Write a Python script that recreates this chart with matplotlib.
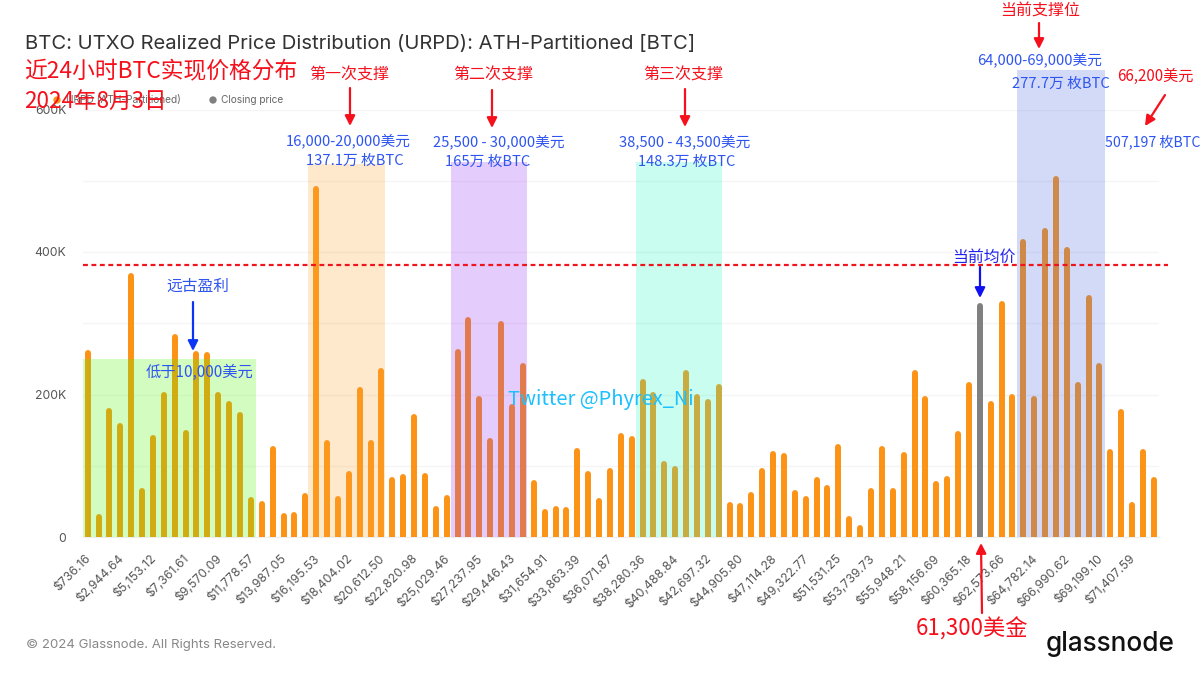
#!/usr/bin/env python
"""URPD bar chart with the hand-drawn support annotations on top."""
import matplotlib
matplotlib.use("Agg")
import matplotlib.pyplot as plt
import numpy as np
from matplotlib.patches import Rectangle
from matplotlib.transforms import ScaledTranslation

# thousands of BTC per price bucket
supply = [262, 32, 181, 160, 371, 69, 143, 203, 285, 150, 261, 259, 204, 190, 175, 56,
          50, 127, 33, 35, 62, 493, 136, 57, 93, 210, 136, 237, 84,
          88, 173, 90, 43, 59, 263, 309, 198, 139, 303, 187, 244, 80, 39, 43, 42, 125,
          93, 55, 97, 146, 141, 221, 203, 107, 100, 234, 200, 194, 215, 49, 47, 63, 97,
          121, 118, 66,
          57, 84, 73, 131, 29, 16, 69, 128, 69, 119, 234, 198, 79, 86, 148, 218, 328,
          190, 331, 201, 418, 198, 433, 507, 407, 218, 340, 244, 124, 180, 49, 123, 84]
closing_idx = 82
tick_labels = ["$736.16", "$2,944.64", "$5,153.12", "$7,361.61", "$9,570.09", "$11,778.57",
               "$13,987.05", "$16,195.53", "$18,404.02", "$20,612.50", "$22,820.98",
               "$25,029.46", "$27,237.95", "$29,446.43", "$31,654.91", "$33,863.39",
               "$36,071.87", "$38,280.36", "$40,488.84", "$42,697.32", "$44,905.80",
               "$47,114.28", "$49,322.77", "$51,531.25", "$53,739.73", "$55,948.21",
               "$58,156.69", "$60,365.18", "$62,573.66", "$64,782.14", "$66,990.62",
               "$69,199.10", "$71,407.59"]
mean_level = 382

# (first bucket edge, last bucket edge, top in K, colour)
zones = [(-0.43, 15.5, 250, (82 / 255, 246 / 255, 10 / 255)),
         (20.25, 27.3, 523, (1.0, 168 / 255, 52 / 255)),
         (33.4, 40.4, 526, (150 / 255, 52 / 255, 248 / 255)),
         (50.4, 58.3, 526, (40 / 255, 248 / 255, 196 / 255)),
         (85.4, 93.5, 656, (76 / 255, 108 / 255, 228 / 255))]

NARROW = ["Liberation Sans Narrow", "Noto Sans CJK SC", "DejaVu Sans"]
RED = "#f5101c"
BLUE = "#2f55f0"
ORANGE = "#fb9316"
CAP = 4  # half a bar width in K, so the round cap ends on the value

plt.rcParams["font.family"] = ["Inter", "DejaVu Sans"]
W, H = 1200, 675
fig = plt.figure(figsize=(12, 6.75), dpi=100)
ax = fig.add_axes([83 / W, 1 - 537 / H, (1159 - 83) / W, (537 - 109.5) / H])

x = np.arange(len(supply))
colors = ["#808080" if i == closing_idx else ORANGE for i in x]
ax.vlines(x, 0, np.array(supply) - CAP, colors=colors, linewidth=4.3, capstyle="round", zorder=3)
ax.set_xlim(-0.43, 98.47)
ax.set_ylim(0, 600)

ax.set_yticks([0, 200, 400, 600], ["0", "200K", "400K", "600K"], fontsize=8.8, color="#555555")
ax.set_yticks([100, 300, 500], minor=True)
ax.grid(axis="y", which="both", color="#f5f5f5", linewidth=1, zorder=0)
ax.set_xticks(x[::3], tick_labels, rotation=45, ha="right", rotation_mode="anchor",
              fontsize=8.8, color="#555555")
ax.tick_params(axis="both", which="both", length=0)
ax.tick_params(axis="y", pad=12)
ax.tick_params(axis="x", pad=11)
shift = ScaledTranslation(-3 / 100, 0, fig.dpi_scale_trans)
for lab in ax.get_xticklabels():
    lab.set_transform(lab.get_transform() + shift)
for side in ["top", "right", "left"]:
    ax.spines[side].set_visible(False)
ax.spines["bottom"].set_color("#eeeeee")

for x0, x1, top, c in zones:
    ax.add_patch(Rectangle((x0, 0), x1 - x0, top, facecolor=c, alpha=0.25, edgecolor="none",
                           zorder=4, clip_on=False))
ax.plot([-0.43, 99.3], [mean_level, mean_level], color="#f0141e", linewidth=1.6,
        linestyle=(0, (2.2, 1.6)), zorder=5, clip_on=False)

# overlay in pixel coords for all the pasted-on notes
ov = fig.add_axes([0, 0, 1, 1], facecolor="none")
ov.set_xlim(0, W)
ov.set_ylim(H, 0)
ov.axis("off")


def note(px, py, s, color=BLUE, size=10.6, family=NARROW, **kw):
    ov.text(px, py, s, color=color, fontsize=size, family=family, va="center", ha="left", **kw)


def arrow(x0, y0, x1, y1, color=RED, lw=1.6):
    ov.annotate("", xy=(x1, y1), xytext=(x0, y0),
                arrowprops=dict(arrowstyle="-|>,head_width=0.3,head_length=0.6", color=color,
                                lw=lw, shrinkA=0, shrinkB=0))


INTER = ["Inter", "DejaVu Sans"]
note(25, 44, "BTC: UTXO Realized Price Distribution (URPD): ATH-Partitioned [BTC]",
     color="#333333", size=14.55, family=INTER)

# legend
ov.scatter([57, 213], [100, 100], s=28, color=[ORANGE, "#808080"], edgecolors="none")
note(66, 100, "URPD (ATH-Partitioned)", color="#666666", size=7.3, family=INTER)
note(221, 100, "Closing price", color="#666666", size=7.3, family=INTER)

note(24, 72, "近24小时BTC实现价格分布", color=RED, size=16.4)
note(24, 101, "2024年8月3日", color=RED, size=16.2)

for px, s in [(309, "第一次支撑"), (453, "第二次支撑"), (643, "第三次支撑")]:
    note(px, 75, s, color=RED, size=11.5)
note(1000, 11, "当前支撑位", color=RED, size=11.5)
note(1117, 76, "66,200美元", color=RED, size=10.9)

arrow(350, 88, 350, 126)
arrow(492, 90, 492, 128)
arrow(685, 89, 685, 127)
arrow(1039, 23, 1039, 49)
arrow(1165, 95, 1145, 126)

note(286, 141, "16,000-20,000美元")
note(306, 161, "137.1万 枚BTC")
note(433, 142, "25,500 - 30,000美元")
note(445, 162, "165万 枚BTC")
note(619, 142, "38,500 - 43,500美元")
note(638, 162, "148.3万 枚BTC")
note(977, 60, "64,000-69,000美元")
note(1012, 84, "277.7万 枚BTC")
note(1105, 142, "507,197 枚BTC", size=10.2)

note(952, 257, "当前均价", color="#2222ee", size=11.4)
arrow(980, 267, 980, 298, color="#1010f0")
note(166, 286, "远古盈利", size=11.3)
arrow(193, 302, 193, 351, color="#0a35f5")
note(146, 372, "低于10,000美元", size=11)

note(508, 399, "Twitter @Phyrex_Ni", color="#1cc0ff", size=14.4)

note(916, 629, "61,300美金", color=RED, size=16)
arrow(982, 613, 981, 543)

note(26, 645, "© 2024 Glassnode. All Rights Reserved.", color="#888888", size=9.5, family=INTER)
ov.text(1046, 644, "glassnode", color="#111111", fontsize=18.8, family=INTER, va="center",
        ha="left", fontweight="medium")

fig.savefig("out.png", dpi=100)
